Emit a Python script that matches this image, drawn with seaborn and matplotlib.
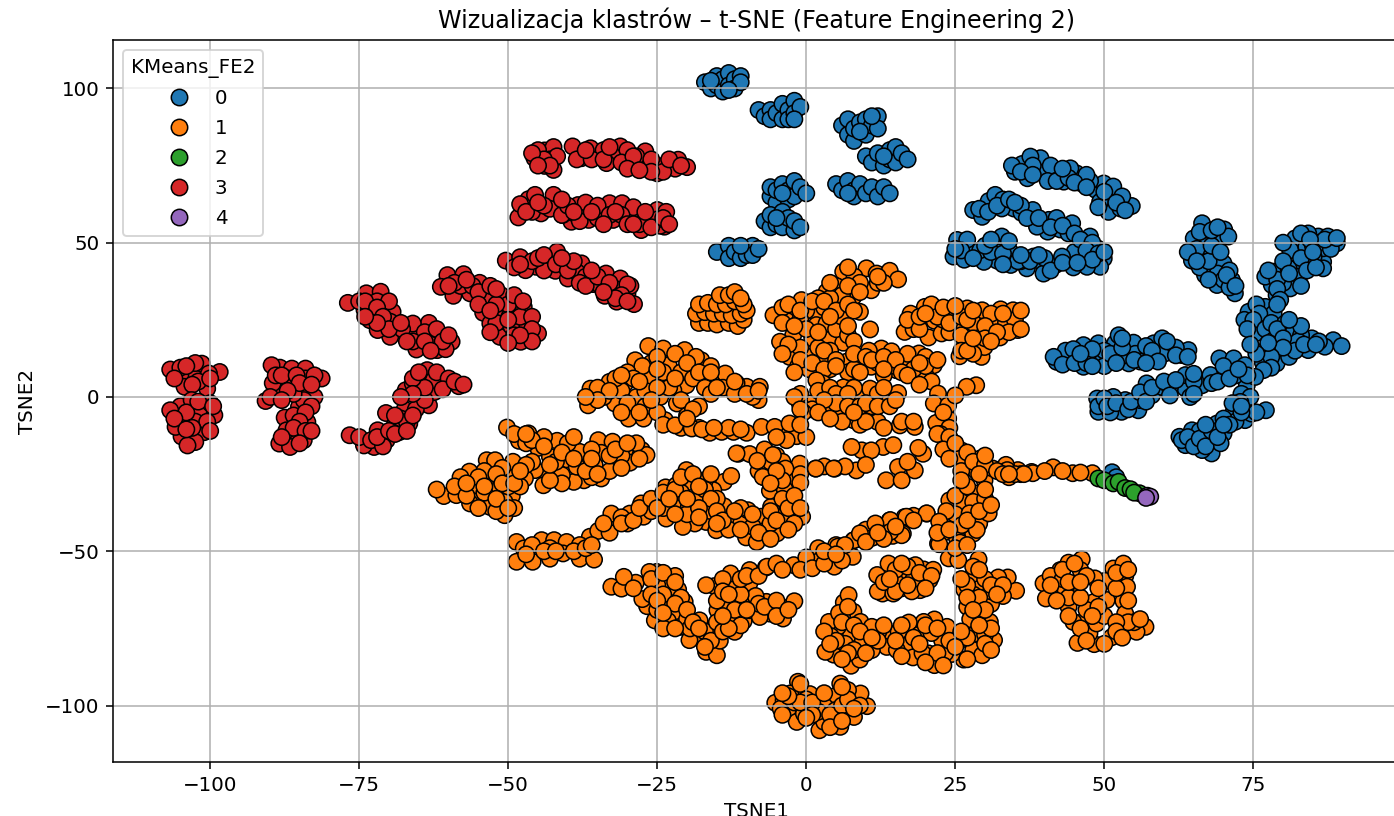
import pandas as pd
import matplotlib
matplotlib.use("Agg")
import matplotlib.pyplot as plt
import seaborn as sns

# punkty (TSNE1, TSNE2), osobno dla kazdego klastra
klaster_0 = [
    # male grupy u gory
    (-17, 102), (-16, 100), (-15, 104), (-15, 101), (-14, 103), (-14, 99), (-13, 105), (-13, 101), (-12, 103), (-12, 100), (-11, 104), (-11, 102), (-16, 102.5), (-13, 99.5),
    (-8, 93), (-7, 91), (-6, 93), (-6, 90), (-5, 92), (-4, 95), (-4, 90), (-3, 93), (-3, 90), (-2, 96), (-2, 92), (-1, 94), (-2, 90),
    (6, 88), (7, 85), (7, 90), (8, 83), (8, 87), (9, 89), (10, 85), (10, 90), (11, 88), (12, 91), (12, 87), (9, 86), (11, 91),
    (10, 78), (11, 76), (12, 79), (13, 75), (14, 80), (14, 77), (15, 81), (15, 76), (16, 79), (17, 77), (13, 78),
    (-6, 65), (-6, 68), (-5, 63), (-5, 67), (-4, 69), (-3, 64), (-3, 67), (-2, 70), (-2, 65), (-1, 68), (0, 66), (-4, 66),
    (5, 69), (6, 67), (7, 70), (8, 67), (8, 65), (9, 69), (10, 66), (11, 68), (12, 65), (13, 68), (14, 66), (7, 66),
    (-7, 57), (-6, 55), (-6, 59), (-5, 56), (-4, 60), (-4, 55), (-3, 58), (-2, 54), (-2, 57), (-1, 55), (-5, 58),
    (-15, 47), (-13, 49), (-13, 45), (-12, 47), (-11, 45), (-10, 48), (-10, 46), (-9, 49), (-9, 46), (-8, 48), (-11, 49),
    # lewe luki
    (36.2, 75.5), (35, 73), (37.1, 70.9), (39.3, 77.4), (39.8, 72.7), (41.8, 72.5), (45.3, 72.5), (43.2, 69.8), (46.2, 69.2), (48.6, 67.1), (51.3, 64.9), (50.7, 60), (52.7, 61.1), (54.6, 61.9), (49.9, 69.2), (44.3, 74.1), (37.6, 77.9), (47.6, 70), (49.3, 63.3), (51.5, 68.2), (38, 75), (41, 75), (47, 72), (53, 65),
    (40.5, 70), (42, 70), (44, 71), (45, 69.5), (47, 68), (50, 66.5), (52, 63), (53.5, 60.5), (34.5, 75), (36, 73), (38, 72), (43, 74), (49, 61.5),
    (28, 60.6), (29.5, 58.4), (30.6, 63.5), (31.7, 65.5), (34.8, 61.1), (36.1, 59.7), (38, 60.6), (40.7, 57.4), (42.6, 54.3), (40.5, 53.6), (44.6, 56.3), (38.7, 55.2), (46.2, 49.8), (48.8, 48.2), (47.6, 52), (49.9, 44.9), (49.3, 42.2), (47.1, 42.2), (44.8, 42), (46.2, 45.5), (32.8, 61.1), (33, 64), (36, 62), (42, 58), (44, 53), (45, 47),
    (29, 61), (30.5, 60), (32, 62), (34, 64), (35, 63), (37, 58), (39, 58), (41, 55), (43, 55.5), (45, 53), (46, 51), (48, 50), (47, 47.5), (49, 46.5), (48, 44.5), (50, 47),
    (25.3, 50.9), (27.4, 47.6), (24.7, 45.5), (26.5, 44.5), (32.4, 49.2), (32.8, 52), (32, 44.2), (34.3, 42.8), (37, 41.7), (39.8, 42.8), (38.1, 45.5), (41.8, 42.8), (39.8, 40), (29.8, 43.8), (29.2, 47.6), (34.2, 47.1), (42.9, 45.5), (36, 44), (31, 47), (40, 45), (27, 51),
    (26, 47.5), (28, 45), (30, 49), (31, 51), (33, 46.5), (35.5, 44), (37.5, 44), (39, 46), (41, 41), (43, 43.5), (45.5, 43.5), (25, 48), (34, 50.5), (36, 46), (33, 43),
    # prawa strona
    (66.4, 56.3), (70.1, 54.3), (65, 51.4), (64.7, 44.2), (68.3, 46.5), (68.3, 42.4), (66.9, 39.5), (68.9, 36.3), (71.4, 37.9), (71.9, 33.6), (67.2, 52), (69.2, 50.9), (66.1, 46), (70, 43.3), (70.8, 52), (67, 49), (69, 40), (71, 41), (66, 42),
    (65.5, 48), (67.5, 44), (68, 49), (69.5, 47), (70, 38), (71, 35.5), (66, 53.5), (68, 54), (64, 47), (67.5, 38), (65.5, 44), (69, 55), (70.5, 39.5), (72, 36),
    (85.9, 52), (88.4, 50.3), (87.5, 52), (84.2, 53), (82, 51.4), (81.2, 47.6), (83.9, 48.7), (86.7, 43.8), (86.7, 48.2), (82.6, 42.4), (78.4, 40.6), (82.7, 39), (80.9, 41.7), (78.1, 36.3), (81.2, 35.2), (78.9, 33), (77, 39), (86.7, 41.7), (85, 49), (89, 49.8), (85.1, 45.5), (80, 37), (83, 45), (79, 38),
    (80, 44), (81, 40), (83, 36), (79, 35), (77.5, 41), (84, 41), (85.5, 42), (83, 53), (86, 50), (88, 48), (87, 51), (89, 51.5), (84.5, 51), (85, 47), (80, 50), (79.5, 31.5),
    (74.2, 27.6), (76.7, 24.4), (75.3, 20.6), (77, 29.2), (78.4, 27), (75.5, 30), (76, 27), (73.5, 25), (75, 25), (77, 22), (78, 24), (74, 22), (79, 30),
    (80.3, 23.8), (81.7, 20.8), (84.8, 19), (88.4, 18.4), (89.8, 16.5), (84.2, 15.2), (81.4, 16.8), (79.5, 14.1), (77, 15.2), (76.6, 11.1), (78.4, 18.4), (87, 16.3), (83, 20), (78.9, 10.9), (81, 13), (86, 18), (79, 22), (82.5, 18),
    (80, 19), (82, 15), (83.5, 17), (85.5, 17), (80, 16), (78, 13), (77.5, 17.5), (83, 23), (81, 25), (78, 9.5), (75.5, 14), (74.5, 17),
    (42, 11.4), (44.6, 13), (46.5, 9.8), (43.5, 15), (47.4, 13.6), (49, 17.4), (49.9, 12.5), (51.8, 17.4), (52.4, 20), (54.9, 17.6), (54.1, 10.9), (56.6, 13), (58.8, 13.6), (58.3, 17.4), (59.7, 19), (63, 13.6), (64.1, 15.2), (52.7, 13), (55.2, 14), (61, 16.3), (46.5, 16.8), (44.8, 15.5), (50, 15), (56, 11.5), (60, 14), (62, 16),
    (41.5, 13), (43, 10.5), (45, 11), (47, 11), (48, 15.5), (50, 10), (51, 14), (53, 16), (53, 19), (55, 12), (57, 16.5), (58, 15), (59, 11.5), (60.5, 18), (62, 13.5), (64, 13), (48, 10), (46, 14), (52, 11), (57, 11),
    (48.8, -0.5), (49, -4.8), (52.9, -4.8), (55.7, -4.3), (53.5, -1), (58, 0.6), (57.1, 4.4), (59.6, 3.3), (63.6, 2.8), (63.6, 7.1), (66.4, 3.8), (67.8, 7.1), (70.3, 8.2), (69.3, 12.5), (71.7, 12.5), (73.6, 10.3), (73.9, 3.8), (72.8, -1.6), (51.5, 0), (64.4, 0), (51, -5), (76.7, 8.7), (75.3, 6.5), (61, 3), (65, 5), (72, 7), (56, -1),
    (49, -3), (50, -0.5), (50.5, -3), (52, -2), (54, -4), (54.5, -1.5), (56, 1.5), (57, -1.5), (58, 3), (60, 5), (61, 0.5), (62, 5.5), (65, 1), (65, 7.5), (68, 4.5), (69, 5), (70, 10), (71, 6), (74, 7), (72.5, 9), (73, 1), (74.5, 0),
    (63.6, -15.6), (62.6, -12.9), (64.7, -10.8), (67.2, -13.5), (68, -18.3), (66.4, -17.2), (70, -11.8), (68.9, -8.6), (69.5, -15), (71.7, -4.8), (73.6, -7.5), (74.7, -5.4), (77.1, -4.3), (75.5, -5), (72.8, -1.6), (66, -11), (72, -8), (65, -14),
    (63, -14), (64, -13), (65, -16), (66, -13.5), (67, -16), (68, -11), (69, -13), (67, -9), (70, -7), (71, -9), (70, -9), (71.5, -2), (73, -5), (73, -3),
    (51.3, -24.4), (52, -26),
]

klaster_1 = [
    # grupa nad srodkiem
    (-18, 24), (-16.5, 24), (-15, 23.5), (-13, 24), (-11.5, 23), (-10.5, 25), (-18.5, 27), (-17, 27.5), (-15.5, 27), (-14, 27), (-12.5, 26.5), (-11, 27), (-10, 28), (-18, 30), (-16.5, 30.5), (-15, 30), (-13.5, 30), (-12, 31), (-10.5, 30), (-14.5, 33), (-13, 33), (-12, 34), (-11, 32),
    # srodek i gora
    (6.2, 40.6), (10.1, 41.7), (11.8, 40), (14, 40.9), (15.4, 38.1), (8.1, 39), (3.4, 34.1), (10.9, 34.6), (7.9, 32.5), (5.9, 30.3), (9, 27.6), (1.7, 27.1), (-2.5, 29.2), (-5.5, 26.5), (-3.3, 24.7), (-0.8, 31.4), (1.7, 23.3), (3.4, 23.8), (-2.2, 20), (-4.4, 17.9), (4, 18.6), (6.2, 17.6), (-2.8, 13), (0.6, 13), (2.6, 12.5), (-1.4, 9.8), (6.7, 11.4), (9.3, 12.5), (10.7, 21.9), (10.9, 9.8), (12.6, 15.7), (14.3, 14.8), (15.1, 8.7), (16.8, 10.8), (18.9, 14.1), (21.4, 10.3), (18.9, 5.7),
    (2, 32), (5, 36), (6, 33), (9, 37), (12, 37), (7, 42), (13, 37), (0, 28), (-1, 25), (1, 19), (-1, 16), (0, 22), (-3, 17), (5, 22), (6, 26), (3, 29), (-4, 29), (4, 15), (7, 20), (2, 16), (0.5, 9), (4, 9), (7, 8), (12, 11), (14, 10), (17, 14), (20, 7), (20, 13), (10.5, 15), (8, 9), (13, 7), (18, 9),
    (4, 32), (4, 37), (7, 36), (9, 34), (12, 39), (-3, 30), (-1, 28), (1, 31), (3, 31), (5, 28), (7, 30), (8, 28), (-4, 24), (-2, 23), (2, 21), (4, 26), (7, 23), (8, 18), (-4, 14), (-1, 12), (1, 11), (3, 15), (5, 12), (8, 14), (10, 13), (11, 12), (13, 13), (15, 12), (16, 8), (13, 9), (17, 7), (20, 10), (22, 12), (19, 11), (21, 5), (19, 4), (-2, 8), (3, 9), (5, 10), (9, 8),
    (16.5, 21.1), (18.4, 24.4), (19.9, 29.2), (21.5, 24.7), (20.5, 19.3), (22.7, 20.6), (24.3, 28.1), (27, 28.7), (29.5, 28.1), (32.6, 28.4), (34.7, 28.1), (35.5, 21.7), (31.2, 24.7), (29.5, 20.6), (32.5, 19.3), (27, 17.5), (25.7, 13.2), (29.4, 13), (29.9, 16.2), (17.5, 27), (18, 22), (22, 28.5), (25, 24), (28, 24), (24, 21), (26, 20), (31, 27), (33.5, 24), (35, 25), (34, 21), (28, 14), (23, 25),
    (17, 25), (19, 22), (19, 26), (21, 30), (22, 26), (24, 24), (26, 26), (27, 25), (28, 28), (30, 23), (30, 19), (32, 21), (33, 27), (36, 22), (36, 28), (26, 15), (27, 15), (31, 18), (28, 19), (20, 27), (23, 29), (25, 29.5),
    (28.5, 3.8), (26.9, 3.3), (22.1, 1.1), (21.4, -2.1), (23.8, -7), (21.8, -8.4), (23.8, -2.7), (23.5, -13), (24.6, -17.3), (24, -10), (25, 0.5), (22.5, -12), (23, -5),
    (2.8, 4.4), (6.2, 3.1), (0.6, -2.1), (-1.1, -2.1), (1.7, 5.4), (6.2, -1), (8.1, -3.8), (7.9, -7.5), (10.1, -6.5), (12, -8.1), (12.9, -1.3), (15.4, 1.3), (15.7, -9.2), (18.2, -9.7), (9.3, 0.6), (4.5, -3.2), (10.7, 2.7), (-1, 1), (1, -4), (3, 1), (8, 3), (12, 1), (14, -1.5), (6, -5), (9, -9), (11, -3), (-0.5, -5),
    (2, 2), (4, 3), (5, 1), (7, 1), (5, -2), (3, -1), (7, -3), (9, -3), (10, -2), (12, -3), (14, -3), (15, -1), (10, -8), (6, -8), (8, -5), (13, -10), (16, -8), (18, -8), (13, 3), (-2, 0), (-1, -4), (2, -5), (4, -7),
    # lewy luk
    (-26.5, 16.5), (-24, 15.7), (-28.7, 11.9), (-23.1, 10.3), (-20.4, 15.2), (-17.6, 11.9), (-19.5, 10.3), (-17, 7.6), (-15, 6), (-13.6, 7.6), (-10, 3.3), (-7.8, 3.3), (-8, -1), (-11.7, 4.4), (-20.1, 3.8), (-22.3, 2.2), (-26.5, 6.5), (-30.4, 4.4), (-33, 4.9), (-36.2, 2.7), (-36.6, -2.7), (-32.1, -2.1), (-29.8, -7), (-27.3, -7), (-23.7, -7.5), (-21.7, -2.1), (-24.5, 0), (-34, 0), (-28.5, 0),
    (-22, 14), (-26, 11), (-25, 13), (-18.5, 13), (-16, 10), (-21, 8), (-19, 6), (-17, 3), (-14, 3), (-12, 1), (-9, 0), (-31, 2), (-35, 3), (-30, -2), (-27, -3), (-25, -5), (-20, -6), (-18, -3), (-16, 1), (-32, 6), (-27, 2), (-27.5, 10), (-24, 8), (-23, 3),
    (-30, 8), (-29, 6), (-28, 5), (-31, 7), (-33, 2), (-35, -1), (-37, 0), (-25, 3), (-25, 9), (-22, 6), (-20, 11), (-18, 8), (-16, 8), (-15, 3), (-12, 5), (-10, 1), (-8, 2), (-21, -1), (-19, -4), (-26, -1), (-28, -5), (-31, -5), (-24, -9), (-21, -10), (-18, -10),
    (-19.2, -10.2), (-22, -9.2), (-16.2, -11.6), (-14.2, -11.3), (-12.2, -11.3), (-10, -11.6), (-7.5, -9.7), (-3.9, -10.8), (-1.6, -12.7), (0, -13), (-5.3, -9.7), (-2.8, -8.6), (-3.3, -14), (-17.5, -10.5), (-13, -10), (-15.5, -10), (-11, -10.5), (-5, -13), (-1, -9), (-20, -7),
    (-11.4, -18.4), (-8.1, -20.5), (-3.3, -23.2), (-7.2, -25.9), (-6.1, -18.4), (-5, -21.6), (-6, -24), (-2.2, -27), (-1.1, -21.6), (1.6, -23.2), (4.8, -23.2), (8.4, -23.8), (3, -22.5), (6.5, -22.5), (9.3, -17.3), (7.6, -16.2), (12.9, -16.2), (14.6, -15.6), (10.9, -17.3), (15.4, -22.7), (18.2, -23.8), (13.4, -27), (16, -27), (19.6, -18.4), (18.8, -16.5), (17, -21), (10, -22), (-9.5, -18.5), (-7, -17),
    (-8, -24), (-5, -19), (-4, -21), (-3, -26), (-1, -25), (-6, -21),
    # ogon w prawo
    (27.1, -21.6), (29.9, -27), (31.3, -23.2), (37.8, -24.3), (35.5, -23.7), (33.5, -22), (26, -17.3), (29.1, -20), (33.7, -23.7), (38, -24.7), (41.4, -22.8), (44.7, -24.7), (48, -24.7), (40, -24), (43, -24), (46, -24.5), (28.5, -24), (25.5, -20), (34, -26), (36, -25),
    (22, -12), (24, -13), (23, -17), (25, -15), (24, -20), (27, -18), (26, -24), (28, -21), (30, -22), (32, -24), (29, -25), (33, -25), (30, -19), (35, -25), (36.5, -25), (34, -25),
    (28.5, -31.3), (22.4, -40.5), (27.1, -37.8), (30.2, -37.8), (24, -33.5), (25.2, -45.4), (22.1, -47.5), (28, -44.3), (23, -44), (26.5, -41), (29, -41), (26, -34), (28, -34), (30, -33), (25, -38), (23.5, -37),
    (20.2, -37.8), (16.5, -38.9), (14, -40), (11.2, -45.4), (7.9, -46.5), (16.2, -44.3), (13.5, -43.5), (5, -48), (2, -49), (18, -38.5), (10, -43), (12, -41.5), (14.5, -45),
    # lewo dol
    (-50.2, -9.9), (-46.6, -11.8), (-48.2, -14.2), (-45, -16.5), (-43, -19.4), (-41.8, -14.2), (-40.2, -20.2), (-38, -17.8), (-34.9, -14), (-32.5, -14.5), (-34.4, -18.1), (-30.4, -17.2), (-27.6, -17.2), (-26.8, -18.8), (-29.6, -21.3), (-32.1, -22.1), (-35.5, -22.1), (-34.4, -26.4), (-37.3, -27), (-39, -27.5), (-43.6, -24.8), (-41, -25.3), (-38.5, -22.6), (-45.5, -23.7), (-44.1, -28.6), (-47.2, -26.4), (-53.6, -20.5), (-56.5, -24.2), (-50.8, -26.4), (-48.9, -25.9), (-49.2, -21), (-52.2, -20.5), (-57.4, -29.6), (-60.8, -32.1), (-62, -30), (-55.2, -32.9), (-58.7, -31.8), (-49.4, -32.1), (-50.6, -38.3), (-52, -30.2), (-53.1, -35.6), (-50.6, -34), (-55.3, -28.6), (-56.4, -34.5), (-53.9, -27.5),
    (-49, -12), (-44, -13), (-47, -15), (-40, -15), (-39, -13), (-36, -17), (-31, -19), (-28.5, -15), (-33, -24), (-36, -26), (-42, -21), (-51, -23), (-54, -24), (-58, -26), (-52, -37), (-50, -29), (-54, -31), (-46, -21), (-41, -28), (-43, -27), (-48, -29),
    (-59, -29), (-57, -32), (-55, -26), (-52, -25), (-51, -28), (-49, -28), (-47, -22), (-52, -33), (-54, -29), (-48, -24), (-57, -28), (-55, -36), (-49, -36), (-50, -36), (-46, -14), (-44, -16), (-47, -12), (-43, -22), (-41, -18), (-39, -20), (-37, -24), (-35, -25), (-33, -19), (-32, -17), (-30, -15), (-28, -20), (-31, -23), (-36, -20),
    (-48.6, -47), (-47.4, -49.1), (-48.6, -53.4), (-45.9, -53.4), (-43, -52.4), (-44.4, -46.4), (-42.3, -46.4), (-40.2, -47), (-40.8, -50.7), (-38, -52.4), (-35.6, -52.7), (-36.3, -45.3), (-34.9, -43.4), (-32.7, -41.5), (-32.7, -37.8), (-29.6, -37.8), (-31, -39), (-27.3, -38.8), (-27.7, -34.5), (-25.4, -33.4), (-23.6, -29.3), (-23.5, -39.4), (-22, -34.3), (-19.6, -27.5), (-20.1, -23.7), (-18, -32.9), (-19.7, -35.6), (-16.8, -40.5), (-18.7, -41), (-20.7, -42.1), (-13.8, -27.5), (-12.6, -25.6), (-15.6, -30.2), (-13.8, -35.4), (-17, -27), (-21.8, -28.6), (-12.8, -39.7), (-10.9, -40.8), (-10.1, -45.5), (-7.5, -38.8), (-7, -43.4), (-8.3, -47), (-4.9, -44.2), (-3.6, -38.3), (-0.7, -38.8), (-5.9, -35.6), (-2.5, -35), (-6.1, -30.4), (-3.6, -30), (-1, -27.8), (-7.3, -25.9), (-3.5, -23.2), (-8.2, -20.7), (1.6, -23.2), (4.6, -23.2), (-11.7, -18.3), (-5.6, -18.8), (-15.1, -43.2), (-9.8, -36.7),
    (-46, -48), (-43, -49), (-38, -48), (-33, -44), (-30, -41), (-26, -37), (-21, -31), (-20, -38), (-16, -37), (-15, -33), (-17, -30), (-11, -36), (-6, -41), (-2, -41), (-4, -33), (-9, -42), (-13, -43), (-24, -36), (-16, -25),
    (-47, -51), (-44, -50), (-42, -50), (-39, -50), (-37, -49), (-36, -48), (-34, -41), (-31, -41), (-29, -40), (-28, -36), (-26, -33), (-24, -31), (-22, -30), (-21, -26), (-19, -25), (-18, -29), (-16, -33), (-18, -36), (-15, -37), (-14, -40), (-12, -37), (-9, -38), (-6, -37), (-5, -40), (-3, -36), (-2, -32), (-4, -27), (-5, -24), (-6, -28), (-15, -41), (-11, -43), (-8, -44), (-6, -46), (-3, -43), (-1, -36), (-22, -38), (-25, -36), (-23, -33), (-18, -39), (-20, -33),
    # dolna lewa
    (-32.7, -61.5), (-31, -62.1), (-28.6, -60.2), (-30.6, -58.3), (-25.1, -56.7), (-26.3, -56.7), (-23.7, -59.9), (-21.5, -62.4), (-20.4, -66.4), (-26.7, -67.8), (-27.5, -65.5), (-23.5, -67), (-22, -70.2), (-23.2, -72.6), (-21.2, -74.5), (-25.4, -72.4), (-17.9, -72.4), (-18.2, -78), (-19.6, -78.8), (-16.8, -82.6), (-15, -83.7), (-15.8, -77), (-14.5, -79), (-12, -76.1), (-12.8, -72.4), (-10.5, -72.6), (-14.9, -69.1), (-15.4, -61.3), (-16.8, -61), (-12, -61), (-12.7, -57.2), (-9.5, -56.1), (-6.8, -55.3), (-9.5, -60.2), (-10.3, -66.4), (-9.5, -69.1), (-6.1, -70.2), (-4, -68.2), (-2, -66.2), (-7.8, -71.3), (-3.9, -71.8), (-13.7, -64.8), (-6.7, -66.4), (-8.5, -64.5),
    (-25, -61), (-24, -64), (-22, -58), (-25, -69), (-20, -72), (-17, -76), (-15, -73), (-13, -68), (-11, -64), (-12, -69), (-8, -67), (-24, -75), (-19.5, -75), (-14, -59),
    (-29, -62), (-26, -59), (-24, -57), (-22, -60), (-26, -64), (-21, -65), (-25, -66), (-22, -67), (-24, -70), (-20, -69), (-19, -73), (-22, -75), (-18, -75), (-16, -79), (-17, -81), (-14, -76), (-11, -74), (-13, -75), (-14, -71), (-15, -66), (-14, -63), (-11, -59), (-10, -58), (-8, -58), (-13, -64), (-10, -69), (-7, -68), (-5, -66), (-5, -71), (-3, -69),
    # dolny srodek
    (-6.6, -55), (-2.1, -54.5), (1.9, -53.4), (4.7, -55), (7.8, -51.8), (0, -52), (5.3, -48.5), (8, -46.4), (11.1, -45.6), (14.1, -39.9), (16, -44.8), (14.1, -43.7), (16.8, -38.8), (20.2, -37.7), (11.6, -41), (9, -44.2), (22.3, -40.4), (22.3, -47.7), (25.8, -47.2), (26.1, -41.5), (27.4, -37.7), (28.6, -43.1), (30.6, -37.7), (23.9, -52.3), (25.5, -52.9), (28.9, -52.6), (27.6, -58.5), (33.8, -58.5), (32.2, -58.5), (35.2, -62.8), (29.2, -62), (26.5, -62.4), (33, -64.5), (28.6, -66.4), (31, -67.1), (27, -68), (27.5, -72), (30.8, -72.9), (28.5, -76.6), (31.5, -78.8), (26.4, -85.1), (28, -82), (29.5, -83.7), (25.8, -78.8), (24.4, -83.3), (23.6, -74.5), (21.5, -72.1), (22.8, -79), (21.5, -86.9), (20.5, -83.1), (19.7, -72.9), (17.2, -73.1), (17.3, -80.1), (17.9, -84.4), (14.5, -76.9), (13.5, -81), (12.1, -76.1), (10.6, -79.7), (7.5, -76.6), (5.3, -74.5), (3.8, -72.9), (4.1, -77.5), (4.6, -83.5), (7.5, -87.1), (9, -85.1), (3.2, -82.6), (6.3, -66.6), (7.1, -64.2), (7.9, -69.6), (9.1, -72.9), (15.2, -82), (19.5, -83), (23.3, -83),
    (6, -71), (6.5, -80), (9.5, -79), (11, -74.5), (5.5, -70), (15.5, -76), (19, -77), (21, -76.5), (24, -79), (27, -78), (30, -77), (28, -64), (31, -63), (29, -70), (18, -78), (8, -82), (11, -82),
    (6, -73), (5, -79), (3, -76), (4, -80), (7, -83), (10, -83), (12, -79), (13, -74), (15, -79), (16, -74), (16, -84), (19, -80), (20, -74), (22, -75), (22, -83), (23, -87), (25, -81), (26, -76), (27, -85), (30, -80), (31, -75), (29, -74), (7, -68), (8, -74), (9, -76), (11, -78), (31, -82), (20, -86), (6, -85),
    (27, -61), (30, -59), (28, -55), (31, -61), (33, -61), (29, -65), (27, -65), (30, -69), (32, -64), (26, -59), (28, -69), (29, -56),
    (-5, -54), (-4, -56), (-1, -56), (1, -55.5), (3, -54), (6, -53), (6.5, -48), (10, -47), (13, -46), (15, -42), (18, -40), (12, -44), (3, -50), (5, -51), (22, -44), (24, -43), (27, -40), (29, -37), (31, -35), (25, -32), (27, -29), (30, -30), (26, -27), (25, -49), (27, -48),
    (13.8, -57), (16.9, -58.5), (19.7, -55.9), (20.7, -59.3), (12.8, -63.7), (16, -62), (19.1, -62.6), (11.9, -57.7), (12, -63), (14.6, -63.7), (17.7, -63), (18.3, -54.5), (21.3, -56), (13.8, -54), (15, -60), (18, -59),
    (13, -60), (15, -56), (17, -55), (19, -57), (21, -58), (15, -63), (17, -61), (14, -59), (16, -54), (20, -62),
    (46.2, -52.6), (44, -53.7), (42.6, -56.1), (46, -56.1), (39.8, -60.4), (41.9, -63.7), (40.2, -65.3), (44, -68), (45.1, -62.8), (43.5, -62.5), (48.3, -66.4), (46.4, -72.9), (44.8, -72.9), (45.5, -79.7), (48.3, -80.1), (47.5, -76.6), (51.2, -77.9), (53.5, -75.4), (56.9, -74.5), (55.4, -76.1), (53.2, -66.1), (53.5, -58.1), (51.5, -55.6), (50.1, -59.6), (48.4, -58.8), (53.5, -70.2), (53.8, -61.5), (50.4, -65.8), (53.2, -54), (48.7, -73.4), (55, -73), (41, -58), (47, -69), (43, -59), (50, -71), (49, -62), (54, -73), (44, -65),
    (41, -61), (43, -56), (45, -54), (44, -60), (42, -66), (46, -65), (47, -58), (46, -60), (49, -68), (52, -73), (46, -75), (50, -80), (52, -76), (47, -79), (52, -62), (52, -57), (54, -66), (54, -56), (48, -71), (44, -71), (53, -78), (56, -72),
    (-1.4, -92.3), (-0.9, -95.6), (-5.2, -99.1), (-3, -101), (0.7, -101), (0.6, -96.3), (-1.6, -105.3), (2.2, -108), (3, -105.3), (5.7, -106.9), (6.7, -103.1), (3, -99.3), (5.1, -96.7), (5.7, -92.9), (8.2, -98.3), (10.2, -100.2), (9.1, -96.1), (-2.7, -96.1), (-3.8, -98.3), (-0.4, -102.6), (4.9, -101.5), (8, -103.7), (-4.3, -101), (2, -102), (7, -95), (-2, -99),
    (-1, -93), (0, -98), (-1, -99), (1, -99), (1, -103), (4, -103), (6, -100), (3, -96), (7, -98), (9, -100), (6, -94), (4, -107), (-3, -97), (-4, -103), (0, -104), (8, -101), (-4, -96), (6, -105),
]

klaster_2 = [(49, -26.4), (50, -27), (51.5, -28), (52.4, -27.5), (53.5, -29.5), (54.4, -29.9), (55.9, -31.2), (55, -31)]

klaster_3 = [
    (-106.7, 8.9), (-103, 7.6), (-105, 7.1), (-98.4, 8.1), (-100.5, 2.7), (-104.3, 3.3), (-101.4, 10.8), (-102.5, 11), (-100.2, 7.6), (-102, 5),
    (-105, 9.5), (-104, 10), (-100, 6), (-106, 6), (-103, 4),
    (-105, -3), (-106.7, -4.3), (-101.4, -4.3), (-99.3, -5.9), (-104.3, -7.6), (-104.8, -12.8), (-101, -11.4), (-102.5, -14.6), (-103.8, -15.7), (-105.8, -9.7), (-102.5, -8), (-103.1, -1), (-100.5, -8),
    (-104, -5), (-103, -10), (-100, -2), (-102, -1.5), (-106, -7), (-100, -11), (-104, -10.5), (-99.5, -3),
    (-88.3, 9.5), (-89.7, 10.3), (-86.3, 9.2), (-84, 9.2), (-81.3, 6), (-88.5, 3.8), (-86.3, 4), (-84, 2.7), (-90.7, -1.3), (-82.5, 0), (-85.1, -3.2), (-87.5, -6.7), (-83.7, -8.1), (-85.9, -12.4), (-88.4, -15.1), (-86.6, -16.2), (-84.3, -14), (-87.2, -10.8), (-89.5, 4.5), (-89.9, 0), (-84.3, -1), (-86, 1), (-87, 6), (-84, 6),
    (-89, 7), (-88, 7), (-85.5, 7), (-82.5, 7), (-85, 4.5), (-83, 4), (-87, 2), (-88, -1), (-83, -3), (-86, -6), (-84, -5), (-85, -8), (-86, -10), (-84, -11), (-88, -13), (-85, -15), (-83, -11),
    (-76.6, -12.4), (-72.5, -16.2), (-74.2, -15.7), (-70.4, -14), (-68.3, -11.4), (-66.6, -8.6), (-70.5, -5.2), (-67.4, -4.1), (-63.3, -2.7), (-67.2, 2.2), (-64.5, 6.5), (-62.4, 1.6), (-60.7, 4.3), (-58.3, 3.5), (-65.1, 0), (-66, 4.3), (-63.6, 8.7), (-69, -9), (-71.9, -10.8), (-75, -13), (-65.5, -4), (-62.5, 5.5), (-68, -7),
    (-73, -14), (-71, -16), (-72, -13), (-70, -11), (-69, -12), (-67, -8), (-67, -11), (-66, -6), (-69, -6), (-64, -1), (-64, 3), (-66, 6), (-65, 8), (-62, 8), (-60, 6), (-61, 2.5), (-59, 5), (-66, 1), (-68, 0), (-57.5, 4),
    (-76.9, 30.5), (-73.8, 33.6), (-71.4, 34.1), (-74.1, 28.2), (-73.2, 24.9), (-69.4, 27.6), (-69.8, 24.4), (-69.8, 19.5), (-72.5, 27), (-66.6, 20), (-62.7, 19.5), (-65.4, 15.4), (-61.9, 15.2), (-59.5, 17.9), (-63.3, 24), (-66, 23.8), (-71.9, 21.7), (-67.8, 22), (-64, 21), (-72, 31), (-63, 17), (-60.5, 15.5),
    (-75, 31), (-74, 31), (-70, 31), (-72, 29), (-71, 26), (-70, 22), (-68, 24), (-66, 18), (-64, 18), (-62, 22), (-61, 18), (-60, 20), (-63, 15), (-72, 24), (-74, 26), (-67, 18),
    (-60.2, 39.5), (-57.5, 39.8), (-54.8, 37), (-59.2, 32.8), (-56.4, 33.6), (-53.3, 32.8), (-51.2, 33), (-54.2, 27.3), (-51.7, 27.1), (-47.4, 29.2), (-47.7, 22.7), (-51.4, 19.5), (-47.9, 17.9), (-45, 20.6), (-53, 23.8), (-61.3, 35.7), (-58, 36), (-49.8, 26), (-49.5, 23), (-56, 36), (-50, 30), (-49, 20), (-52, 30),
    (-59, 37), (-57, 38), (-55, 34), (-60, 36), (-53, 36), (-52, 35), (-52, 24), (-55, 30), (-53, 28), (-48, 26), (-46, 26), (-46, 22), (-46, 18), (-48, 20), (-50, 17.5), (-53, 21), (-49, 33), (-50, 25), (-47.5, 31),
    (-50.4, 44.2), (-48, 45.3), (-45.3, 42.2), (-43.3, 44.4), (-41.8, 47.1), (-42.1, 40.9), (-40, 38.4), (-37.7, 43.3), (-38.5, 40.5), (-35.8, 36.6), (-33.6, 40), (-31.2, 38.4), (-33.8, 32.8), (-30, 33.6), (-28.9, 30.1), (-31.8, 30.9), (-37, 39), (-47.1, 41.1), (-44, 41), (-46, 44), (-32, 35), (-34.5, 36), (-40, 43), (-29.5, 36),
    (-49, 42), (-45, 45), (-44, 46), (-42, 43), (-40, 41), (-39, 44), (-41, 45), (-38, 37), (-37, 36), (-35, 39), (-33, 37), (-30, 36.5), (-31, 33), (-32, 32), (-30, 31), (-34, 34), (-36, 41), (-48, 43),
    (-46.6, 64.1), (-48.3, 58.2), (-48, 62.5), (-44.5, 59.5), (-41.8, 62.6), (-42.4, 65.5), (-39.4, 56.8), (-38.3, 62.2), (-36.5, 57.4), (-34.6, 60.6), (-33, 62.8), (-30.9, 62.8), (-32.4, 57.4), (-29.3, 58.2), (-26.8, 57.9), (-27.7, 54.1), (-23.8, 55.2), (-25, 60.6), (-29, 61.5), (-40.9, 59), (-45.5, 65.5), (-38.9, 59.5), (-24.5, 55.5), (-46, 60), (-43, 61), (-37, 60), (-31, 59), (-28, 56), (-25, 57.5), (-35, 58), (-23.5, 60),
    (-44, 62), (-47, 60), (-45, 63), (-41, 59), (-40, 62), (-38, 57), (-37, 63), (-35, 62), (-33, 59), (-32, 60), (-30, 56), (-29, 56), (-27, 60), (-26, 55), (-24, 58), (-23, 56), (-34, 56), (-41, 64), (-36, 60), (-39, 60),
    (-43.9, 79.9), (-43.9, 74.9), (-45.6, 77.4), (-42.4, 73.6), (-42.4, 81), (-45, 80), (-43, 77), (-41.8, 78), (-44, 77), (-46, 79), (-43, 75), (-45, 75),
    (-39.2, 81.2), (-37.7, 77.4), (-35, 78.2), (-31.2, 81.2), (-32.4, 78), (-29.9, 76.6), (-27.7, 75.8), (-23.5, 74.5), (-21.5, 76.9), (-20, 74.5), (-25, 72.5), (-27, 79.6), (-36.2, 80.6), (-33.5, 75.8), (-38.5, 77), (-22, 74), (-25, 75), (-28.5, 78), (-30, 80), (-34, 80),
    (-36, 77), (-34, 77), (-31, 76), (-29, 78), (-26, 77), (-24, 73), (-23, 77), (-21, 75), (-30, 74), (-37, 80), (-33, 81), (-26, 73), (-28, 73.5),
]

klaster_4 = [(57.2, -32), (57.7, -32.3), (57, -32.7)]

klastry = [klaster_0, klaster_1, klaster_2, klaster_3, klaster_4]

wiersze = []
for nr, punkty in enumerate(klastry):
    for x, y in punkty:
        wiersze.append({"TSNE1": x, "TSNE2": y, "KMeans_FE2": nr})
df = pd.DataFrame(wiersze)

plt.rcParams["font.size"] = 10.3

fig = plt.figure(figsize=(1394 / 139, 816 / 139), dpi=139)
# prawa krawedz osi wychodzi poza obraz, jak w oryginale
ax = fig.add_axes([113 / 1394, (816 - 762) / 816, (1400 - 113) / 1394, (762 - 40) / 816])

sns.scatterplot(data=df, x="TSNE1", y="TSNE2", hue="KMeans_FE2", palette=sns.color_palette("tab10", 5),
                s=72, edgecolor="black", linewidth=0.8, legend="full", ax=ax)

ax.set_xlim(-116.3, 99.6)
ax.set_ylim(-118.3, 115.7)
ax.set_title("Wizualizacja klastrów – t-SNE (Feature Engineering 2)")
ax.grid(True)
ax.legend(title="KMeans_FE2", loc="upper left", labelspacing=0.55)

fig.savefig("out.png", dpi=139)
